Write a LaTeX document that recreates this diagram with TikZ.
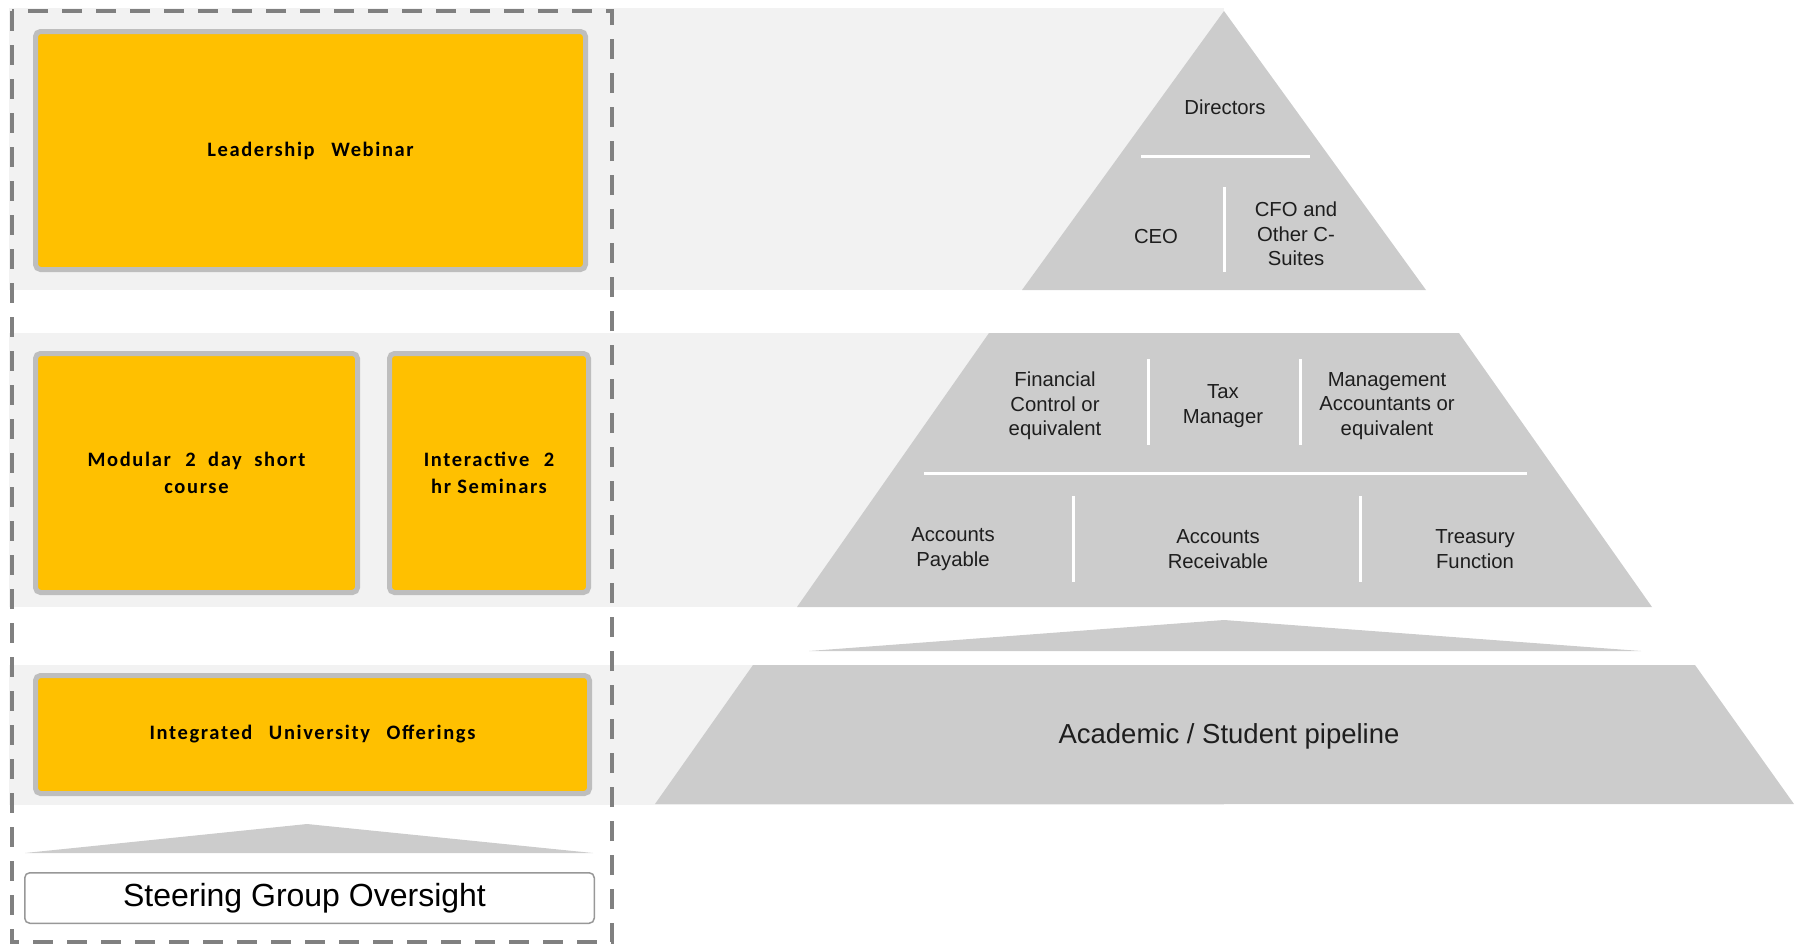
\documentclass[tikz,border=0pt]{standalone}
\usepackage{fontspec}
\setmainfont{Liberation Sans}
\newfontfamily\calb[LetterSpace=8]{Carlito}
\definecolor{ygold}{HTML}{FFC000}
\definecolor{ybord}{HTML}{BEBEBE}
\definecolor{bandgray}{HTML}{F2F2F2}
\definecolor{pyrgray}{HTML}{CCCCCC}
\definecolor{dashgray}{HTML}{808080}
\definecolor{txtdark}{HTML}{1E1E1E}
\tikzset{
  ybox/.style={draw=ybord, line width=5pt, fill=ygold, rounded corners=5pt, inner sep=0pt, align=center, font=\calb\bfseries\fontsize{20.5}{27}\selectfont},
  sbox/.style={draw=ybord!80!black, line width=1.5pt, fill=white, rounded corners=5pt, inner sep=0pt, font=\fontsize{32}{36}\selectfont},
  ptext/.style={align=center, text=txtdark, inner sep=0pt, font=\fontsize{20.3}{24.5}\selectfont},
  wline/.style={draw=white, line width=3pt},
}
\begin{document}
\begin{tikzpicture}[x=1pt,y=-1pt]
\useasboundingbox (0,0) rectangle (1796,945);
% bands
\fill[bandgray] (9,8) rectangle (1224,290);
\fill[bandgray] (9,333) rectangle (1224,607);
\fill[bandgray] (9,665) rectangle (1224,805);
% pyramid
\fill[pyrgray] (1224,11) -- (1426,290) -- (1022,290) -- cycle;
\fill[pyrgray] (989,333) -- (1459,333) -- (1652,607) -- (797,607) -- cycle;
\fill[pyrgray] (1224,620) -- (1641,651) -- (809,651) -- cycle;
\fill[pyrgray] (753,665) -- (1695,665) -- (1794,804) -- (655,804) -- cycle;
% separators
\draw[wline] (1141,156) -- (1310,156);
\draw[wline] (1224,187) -- (1224,272);
\draw[wline] (1148,359) -- (1148,445);
\draw[wline] (1300,359) -- (1300,445);
\draw[wline] (924,473) -- (1527,473);
\draw[wline] (1073,496) -- (1073,582);
\draw[wline] (1360,496) -- (1360,582);
% pyramid texts
\node[ptext] (dir) at (1225,107) {Directors};
\node[ptext] (ceo) at (1156,237) {CEO};
\node[ptext] (cfo) at (1296,234) {CFO and\\Other C-\\Suites};
\node[ptext] (fin) at (1055,406) {Financial\\Control or\\equivalent};
\node[ptext] (tax) at (1223,406) {Tax\\Manager};
\node[ptext] (man) at (1387,406) {Management\\Accountants or\\equivalent};
\node[ptext] (ap) at (953,549) {Accounts\\Payable};
\node[ptext] (ar) at (1218,549) {Accounts\\Receivable};
\node[ptext] (tf) at (1475,549) {Treasury\\Function};
\node[ptext, font=\fontsize{27.5}{32}\selectfont] (acad) at (1229,736) {Academic / Student pipeline};
% left boxes
\node[ybox, minimum width=550pt, minimum height=238pt] (lw) at (310.5,150.5) {Leadership\hspace{0.5em} Webinar};
\node[ybox, minimum width=322pt, minimum height=239pt] (mod) at (196.5,473) {Modular\hspace{0.4em} 2\hspace{0.3em} day\hspace{0.3em} short\\course};
\node[ybox, minimum width=199pt, minimum height=239pt] (int) at (489,473) {Interactive\hspace{0.4em} 2\\hr Seminars};
\node[ybox, minimum width=554pt, minimum height=118pt] (iuo) at (312.5,734.5) {Integrated\hspace{0.5em} University\hspace{0.5em} Offerings};
\fill[pyrgray] (307,824) -- (593,853) -- (25,853) -- cycle;
\node[sbox, minimum width=569.5pt, minimum height=50.5pt] (sgo) at (309.5,898) {Steering Group Oversight\hspace*{10pt}};
% dashed frame
\draw[dashgray, line width=4pt, dash pattern=on 20pt off 14pt] (12,11) rectangle (612,942);
\end{tikzpicture}
\end{document}
